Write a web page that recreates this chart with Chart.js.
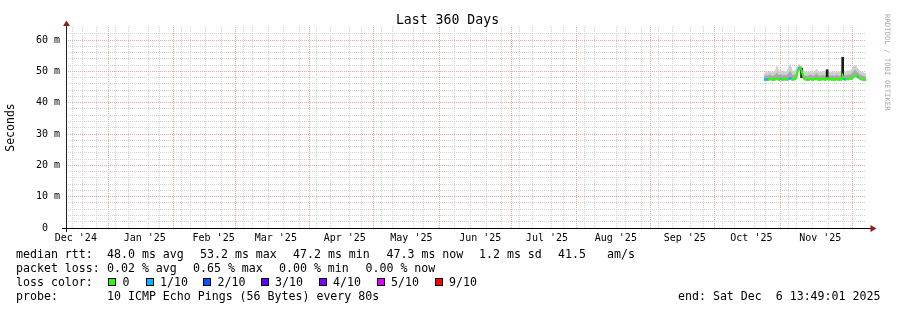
<!DOCTYPE html>
<html><head><meta charset="utf-8">
<script src="https://cdn.jsdelivr.net/npm/chart.js@4/dist/chart.umd.min.js"></script>
<style>
body{margin:0;background:#fff;}
#wrap{position:relative;width:897px;height:310px;overflow:hidden;font-family:'DejaVu Sans Mono',monospace;color:#000;background:#fff;}
canvas{position:absolute;left:0;top:0;}
.t{position:absolute;white-space:pre;font-size:11.6px;line-height:14px;}
.box{position:absolute;width:6px;height:6px;border:1px solid #000;}
#title{position:absolute;left:0;top:11.5px;width:895px;text-align:center;font-size:13.2px;line-height:16px;white-space:pre;}
#wm{position:absolute;left:883px;top:14px;writing-mode:vertical-rl;font-size:7.3px;line-height:8px;color:#aaaaaa;white-space:pre;}
</style></head>
<body>
<div id="wrap">
<canvas id="c" width="897" height="310"></canvas>
<div id="title">Last 360 Days</div>
<div id="wm">RRDTOOL / TOBI OETIKER</div>
<div id="legend"></div>
</div>
<script>
// ---- data (ms) : half-day samples ending at graph end ----
const median = [
47.4,47.3,47.5,47.4,47.3,47.5,47.6,47.4,47.3,47.5,
47.4,47.6,47.8,47.5,47.4,47.7,47.5,47.3,47.6,47.5,
47.4,47.6,47.5,47.7,47.9,47.6,47.4,47.5,47.6,47.8,
49.2,50.7,51.2,51.0,50.3,49.0,47.9,47.5,47.4,47.3,
47.5,47.4,47.6,47.5,47.3,47.4,47.6,47.5,47.7,47.4,
47.3,47.5,47.4,47.6,47.5,47.3,47.4,47.9,47.5,47.4,
47.6,47.3,47.5,47.4,47.3,47.6,47.5,47.4,47.3,47.5,
47.4,48.6,47.6,47.5,47.4,47.6,47.5,47.7,47.6,47.8,
48.1,48.4,48.7,48.8,48.5,48.1,47.8,47.6,47.5,47.4,
47.3,47.3,47.2];
const lossTenths = [
1,1,1,1,0,0,0,0,0,0,
0,0,0,0,0,1,0,0,0,0,
0,0,1,1,1,0,0,0,0,0,
0,1,0,0,0,0,0,0,0,0,
0,0,0,0,0,0,0,0,0,0,
0,0,0,0,0,0,0,0,0,0,
0,0,0,0,0,0,0,0,0,0,
0,0,1,1,0,0,0,0,0,0,
0,0,0,0,1,0,0,0,0,0,
0,0,0];
const smokeLow = [
47.0,46.9,47.1,47.0,46.9,47.1,47.2,47.0,46.9,47.1,
47.0,47.1,47.2,47.0,47.0,47.2,47.1,46.9,47.1,47.1,
47.0,47.1,47.0,47.2,47.3,47.1,47.0,47.1,47.1,47.3,
47.8,49.6,50.3,50.1,49.0,47.9,47.3,47.1,47.0,46.9,
47.1,47.0,47.2,47.1,46.9,47.0,47.2,47.1,47.2,47.0,
46.9,47.1,47.0,47.2,47.1,46.9,47.0,47.2,47.1,47.0,
47.2,46.9,47.1,47.0,46.9,47.2,47.1,47.0,46.9,47.1,
47.0,47.4,47.2,47.1,47.0,47.2,47.1,47.3,47.2,47.3,
47.5,47.8,48.0,48.1,47.9,47.6,47.4,47.2,47.1,47.0,
46.9,46.9,46.8];
const smokeMid = [
48.6,48.4,48.8,48.5,48.7,48.9,49.0,48.6,48.5,48.8,
48.7,49.3,49.6,49.0,48.8,49.2,48.9,48.6,49.0,48.8,
48.7,49.1,49.3,49.8,50.2,49.4,48.8,48.9,49.0,49.3,
50.4,51.4,51.8,51.6,51.0,50.0,48.9,48.7,48.6,48.5,
48.8,48.6,49.0,48.9,48.5,48.6,48.9,49.2,49.4,48.8,
48.5,48.8,48.6,48.9,48.8,48.5,48.7,49.5,48.8,48.6,
48.9,48.5,48.8,48.6,48.5,48.9,48.8,48.6,48.5,48.8,
48.7,50.5,49.1,48.8,48.7,49.0,48.8,49.1,49.0,49.3,
49.6,50.2,50.4,50.3,49.9,49.5,49.1,48.9,48.8,48.6,
48.5,48.4,48.3];
const smokeHigh = [
49.6,49.4,49.9,49.6,49.8,50.0,50.2,49.7,49.6,49.9,
50.1,51.2,52.0,51.0,50.2,50.6,50.1,49.8,50.3,50.0,
49.9,50.4,51.0,52.0,52.6,51.2,50.0,50.1,50.3,50.8,
51.6,52.1,52.3,52.1,51.7,51.0,50.1,49.9,49.8,49.6,
50.0,49.8,50.3,50.1,49.6,49.8,50.2,50.6,50.8,50.0,
49.7,50.0,49.8,50.2,50.1,49.7,49.9,51.0,50.0,49.8,
50.1,49.7,50.0,49.8,49.6,50.1,50.0,49.8,49.7,50.0,
50.0,52.0,50.6,50.0,49.9,50.3,50.0,50.4,50.2,50.7,
51.2,51.9,52.1,51.8,51.2,50.8,50.3,50.1,49.9,49.7,
49.6,49.5,49.4];
// dark smoke spikes: sample index, low, high (ms)
const spikeIndex = [34, 57, 71];
const spikeLow   = [48.0, 47.5, 47.6];
const spikeHigh  = [51.0, 50.5, 54.5];

const monthLabels = ["Dec '24","Jan '25","Feb '25","Mar '25","Apr '25","May '25","Jun '25",
                     "Jul '25","Aug '25","Sep '25","Oct '25","Nov '25","Dec '25"];
const yTickValues = [0,2,4,6,8,10,12,14,16,18,20,22,24,26,28,30,32,34,36,38,40,42,44,46,48,50,52,54,56,58,60,62];
const lossColors = ['#26ff00','#00b8ff','#0059ff','#5e00ff','#7e00ff','#dd00ff','#ff0000','#ff0000','#ff0000','#ff0000'];

// ---- time frame ----
const DAY = 86400000;
const endTime = Date.UTC(2025, 11, 6, 13, 49, 1);
const startTime = endTime - 360 * DAY;
const stepMs = 0.5 * DAY;
const firstSample = endTime - (median.length - 1) * stepMs;
const xAt = i => firstSample + i * stepMs;
const pts = arr => arr.map((v, i) => ({x: xAt(i), y: v}));

// ---- x tick info ----
const xInfo = new Map();
function addX(v, grid, label) {
  const o = xInfo.get(v) || {grid: null, label: ''};
  if (grid && o.grid !== 'major') o.grid = grid;
  if (label) o.label = label;
  xInfo.set(v, o);
}
monthLabels.forEach((lab, k) => {
  const ms = Date.UTC(2024, 11 + k, 1);
  if (ms >= startTime && ms <= endTime) addX(ms, 'major');
  const mid = ms + 15 * DAY;
  if (mid >= startTime && mid <= endTime) addX(mid, null, lab);
});
for (let w = Date.UTC(2024, 11, 15); w <= endTime; w += 7 * DAY) addX(w, 'minor');

const MONO = "'DejaVu Sans Mono', monospace";
const minorC = '#d3d3d3', majorC = '#f5a3a3';

const axesPlugin = {
  id: 'axesArrows',
  afterDraw(chart) {
    const {ctx} = chart;
    ctx.save();
    ctx.setLineDash([]);
    ctx.lineWidth = 1;
    ctx.strokeStyle = '#222';
    ctx.beginPath(); ctx.moveTo(66.5, 232); ctx.lineTo(66.5, 24); ctx.stroke();
    ctx.strokeStyle = '#000';
    ctx.beginPath(); ctx.moveTo(62, 228.5); ctx.lineTo(871, 228.5); ctx.stroke();
    ctx.fillStyle = '#8f1d1d';
    ctx.beginPath(); ctx.moveTo(66.5, 20.5); ctx.lineTo(63, 26); ctx.lineTo(70, 26); ctx.closePath(); ctx.fill();
    ctx.beginPath(); ctx.moveTo(876.5, 228.5); ctx.lineTo(870.5, 225); ctx.lineTo(870.5, 232); ctx.closePath(); ctx.fill();
    ctx.restore();
  }
};

new Chart(document.getElementById('c'), {
  type: 'line',
  data: {
    datasets: [
      { label: 'median', data: pts(median), order: 0, borderWidth: 2, fill: false,
        segment: { borderColor: c => lossColors[lossTenths[c.p0DataIndex]] },
        borderColor: lossColors[0] },
      { type: 'bar', label: 'dark smoke', order: 1, barThickness: 2, grouped: false,
        backgroundColor: '#1a1a1a', borderWidth: 0,
        data: spikeIndex.map((idx, k) => ({x: xAt(idx), y: [spikeLow[k], spikeHigh[k]]})) },
      { label: 'smoke mid', data: pts(smokeMid), order: 2, borderWidth: 0, borderColor: 'rgba(0,0,0,0)',
        fill: {target: 4}, backgroundColor: '#a9a9a9' },
      { label: 'smoke high', data: pts(smokeHigh), order: 3, borderWidth: 0, borderColor: 'rgba(0,0,0,0)',
        fill: {target: 4}, backgroundColor: '#cfcfcf' },
      { label: 'smoke low', data: pts(smokeLow), order: 4, borderWidth: 0, borderColor: 'rgba(0,0,0,0)', fill: false }
    ]
  },
  options: {
    responsive: false, animation: false, devicePixelRatio: 1,
    layout: { padding: { left: 0, right: 31, top: 27, bottom: 0 } },
    elements: { point: { radius: 0, hoverRadius: 0 }, line: { tension: 0 } },
    plugins: { legend: { display: false }, title: { display: false }, tooltip: { enabled: false } },
    scales: {
      x: {
        type: 'linear', min: startTime, max: endTime, offset: false,
        afterBuildTicks: s => { s.ticks = [...xInfo.keys()].sort((p, q) => p - q).map(v => ({value: v})); },
        afterFit: s => { s.height = 82; },
        ticks: { autoSkip: false, maxRotation: 0, minRotation: 0, padding: 4, color: '#000',
                 font: { family: MONO, size: 10 },
                 callback: v => (xInfo.get(v) || {}).label || '' },
        grid: { drawTicks: false, lineWidth: 1,
                color: c => { const g = (xInfo.get(c.tick && c.tick.value) || {}).grid;
                              return g === 'major' ? majorC : g === 'minor' ? minorC : 'rgba(0,0,0,0)'; } },
        border: { display: false, dash: [1, 1] }
      },
      y: {
        min: 0, max: 64.15,
        afterBuildTicks: s => { s.ticks = yTickValues.map(v => ({value: v})); },
        afterFit: s => { s.width = 66; },
        ticks: { autoSkip: false, padding: 6, color: '#000', font: { family: MONO, size: 10 },
                 callback: v => v === 0 ? '0  ' : (v % 10 === 0 ? v + ' m' : '') },
        grid: { drawTicks: false, lineWidth: 1,
                color: c => { const v = c.tick && c.tick.value; if (v === 0) return 'rgba(0,0,0,0)';
                              return v % 10 === 0 ? majorC : minorC; } },
        border: { display: false, dash: [1, 1] },
        title: { display: true, text: 'Seconds', color: '#000', font: { family: MONO, size: 11.5 },
                 padding: { top: 4, bottom: 0 } }
      }
    }
  },
  plugins: [axesPlugin]
});

// ---- legend text (HTML) ----
const legendRows = [
  [[16,'median rtt:'],[107,'48.0 ms avg'],[200,'53.2 ms max'],[293,'47.2 ms min'],[386.5,'47.3 ms now'],[479,'1.2 ms sd'],[558,'41.5'],[607,'am/s']],
  [[16,'packet loss:'],[107,'0.02 % avg'],[193,'0.65 % max'],[279,'0.00 % min'],[365.5,'0.00 % now']],
  [[16,'loss color:'],[122.5,'0'],[160,'1/10'],[217.5,'2/10'],[275,'3/10'],[333,'4/10'],[391,'5/10'],[449,'9/10']],
  [[16,'probe:'],[107,'10 ICMP Echo Pings (56 Bytes) every 80s'],[678,'end: Sat Dec  6 13:49:01 2025']]
];
const legendBoxes = [[108,'#26ff00'],[145.5,'#00b8ff'],[203,'#0059ff'],[261,'#5e00ff'],[319,'#7e00ff'],[376.5,'#dd00ff'],[435,'#ff0000']];
const lg = document.getElementById('legend');
legendRows.forEach((row, r) => row.forEach(([x, s]) => {
  const d = document.createElement('div'); d.className = 't';
  d.style.left = x + 'px'; d.style.top = (246.7 + 14 * r) + 'px'; d.textContent = s; lg.appendChild(d);
}));
legendBoxes.forEach(([x, col]) => {
  const b = document.createElement('div'); b.className = 'box';
  b.style.left = x + 'px'; b.style.top = '277.5px'; b.style.background = col; lg.appendChild(b);
});
</script>
</body></html>
